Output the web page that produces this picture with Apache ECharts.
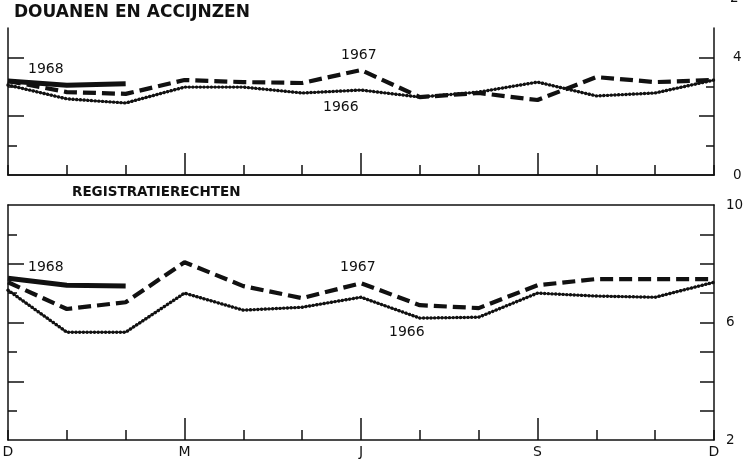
<!DOCTYPE html>
<html><head><meta charset="utf-8">
<script src="https://cdn.jsdelivr.net/npm/echarts@6/dist/echarts.min.js"></script>
<style>html,body{margin:0;padding:0;background:#fff}#c{width:743px;height:459px}</style>
</head><body><div id="c"></div>
<script>
// ---- data ----
const months = ['D','J','F','M','A','M','J','J','A','S','O','N','D'];
const shownMonths = [0,3,6,9,12];
const douanen1966 = [3.06,2.59,2.45,2.99,2.99,2.79,2.89,2.65,2.82,3.16,2.69,2.79,3.23];
const douanen1967 = [3.20,2.82,2.76,3.23,3.16,3.13,3.57,2.65,2.79,2.55,3.33,3.16,3.23];
const douanen1968 = [3.20,3.05,3.10];
const registratie1966 = [7.10,5.67,5.67,7.00,6.42,6.52,6.86,6.15,6.18,7.00,6.90,6.86,7.37];
const registratie1967 = [7.37,6.46,6.69,8.05,7.24,6.83,7.34,6.59,6.49,7.27,7.48,7.48,7.48];
const registratie1968 = [7.51,7.27,7.24];
const topLabels = [0,4];
const bottomLabels = [2,6,10];
const titles = ['DOUANEN EN ACCIJNZEN','REGISTRATIERECHTEN'];

const INK = '#111';
const chart = echarts.init(document.getElementById('c'), null, {renderer:'canvas'});

const grids = [
  {left:8, top:28, width:706, height:147, outerBoundsMode:'none', containLabel:false},
  {left:8, top:205, width:706, height:235, outerBoundsMode:'none', containLabel:false}
];
const panels = [
  {min:0, max:5, longT:[2,4], shortT:[1,3], rLong:[2,4], rShort:[1,3], labels:topLabels, rLen:[15,8], margin:19},
  {min:2, max:10, longT:[4,6,8], shortT:[3,5,7,9], rLong:[4,6,8], rShort:[3,5,7,9], labels:bottomLabels, rLen:[14,14], margin:12}
];

const xAxes = [], yAxes = [];
grids.forEach((g, gi) => {
  xAxes.push({gridIndex:gi, type:'category', data:months, boundaryGap:false, position:'bottom',
    axisLine:{lineStyle:{color:INK, width:1.5}},
    axisTick:{inside:true, length:10, interval:0, lineStyle:{color:INK, width:1.5}},
    axisLabel: gi === 1 ? {interval:(i)=>shownMonths.includes(i), color:INK, fontSize:14, margin:5, fontFamily:'DejaVu Sans'} : {show:false},
    splitLine:{show:false}});
  xAxes.push({gridIndex:gi, type:'category', data:months, boundaryGap:false, position:'bottom',
    axisLine:{show:false},
    axisTick:{inside:true, length:22, interval:(i)=>i%3===0 && i>0 && i<12, lineStyle:{color:INK, width:1.5}},
    axisLabel:{show:false}, splitLine:{show:false}});
  xAxes.push({gridIndex:gi, type:'category', data:months, boundaryGap:false, position:'top',
    axisLine:{lineStyle:{color:INK, width:1.5}}, axisTick:{show:false}, axisLabel:{show:false}, splitLine:{show:false}});
  const p = panels[gi];
  const base = {gridIndex:gi, type:'value', min:p.min, max:p.max, splitLine:{show:false}};
  yAxes.push(Object.assign({}, base, {position:'left', axisLine:{show:true, lineStyle:{color:INK, width:1.5}},
    axisTick:{show:true, inside:true, length:16, customValues:p.longT, lineStyle:{color:INK, width:1.5}}, axisLabel:{show:false}}));
  yAxes.push(Object.assign({}, base, {position:'left', axisLine:{show:false},
    axisTick:{show:true, inside:true, length:9, customValues:p.shortT, lineStyle:{color:INK, width:1.5}}, axisLabel:{show:false}}));
  yAxes.push(Object.assign({}, base, {position:'right', axisLine:{show:true, lineStyle:{color:INK, width:1.5}},
    axisTick:{show:true, inside:true, length:p.rLen[0], customValues:p.rLong, lineStyle:{color:INK, width:1.5}},
    axisLabel:{show:true, customValues:p.labels, color:INK, fontSize:13.5, margin:p.margin, fontFamily:'DejaVu Sans'}}));
  yAxes.push(Object.assign({}, base, {position:'right', axisLine:{show:false},
    axisTick:{show:true, inside:true, length:p.rLen[1], customValues:p.rShort, lineStyle:{color:INK, width:1.5}}, axisLabel:{show:false}}));
});

function s(name, gi, data, kind){
  const common = {name, type:'line', xAxisIndex:gi*3, yAxisIndex:gi*4, data, symbol:'none', silent:true, animation:false};
  if (kind === 'dot') return [
    Object.assign({}, common, {lineStyle:{color:INK, width:1.4}}),
    Object.assign({}, common, {lineStyle:{color:INK, width:3.4, type:[0.1,3.6], cap:'round'}})
  ];
  if (kind === 'dash') return [Object.assign({}, common, {lineStyle:{color:INK, width:4.2, type:[13,6], cap:'butt'}})];
  return [Object.assign({}, common, {lineStyle:{color:INK, width:5}})];
}

const series = [].concat(
  s('1966',0,douanen1966,'dot'), s('1967',0,douanen1967,'dash'), s('1968',0,douanen1968,'solid'),
  s('1966',1,registratie1966,'dot'), s('1967',1,registratie1967,'dash'), s('1968',1,registratie1968,'solid')
);

const txt = (x,y,t,size,weight,family) => ({type:'text', left:x, top:y, style:{text:t, fill:INK, font:`${weight||'normal'} ${size}px ${family||'DejaVu Sans'}`}});

chart.setOption({
  backgroundColor:'#fff',
  animation:false,
  grid:grids,
  xAxis:xAxes,
  yAxis:yAxes,
  series,
  graphic:[
    txt(14,4,titles[0],17,'bold','"DejaVu Sans"'),
    txt(72,185,titles[1],13.5,'bold','"DejaVu Sans"'),
    txt(28,62,'1968',14),
    txt(341,48,'1967',14),
    txt(323,100,'1966',14),
    txt(28,260,'1968',14),
    txt(340,260,'1967',14),
    txt(389,325,'1966',14),
    txt(730,-9,'2',13.5)
  ]
});
</script></body></html>
